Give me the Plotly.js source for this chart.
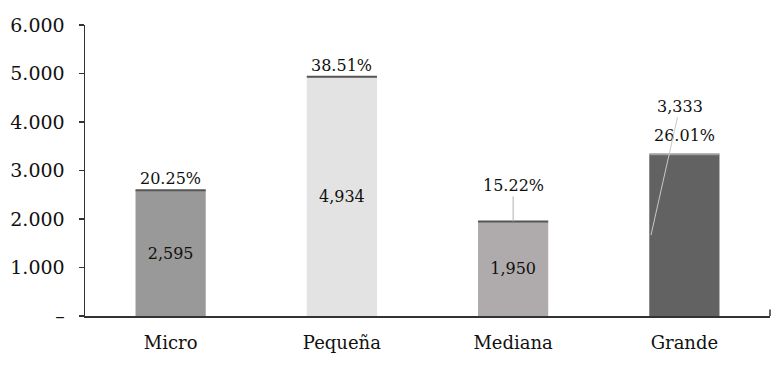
<!DOCTYPE html>
<html>
<head>
<meta charset="utf-8">
<script src="https://cdn.plot.ly/plotly-3.0.1.min.js"></script>
<style>html,body{margin:0;padding:0;background:#fff;}#chart{width:781px;height:366px;}</style>
</head>
<body>
<div id="chart"></div>
<script>
const categories = ["Micro", "Pequeña", "Mediana", "Grande"];
const values = [2595, 4934, 1950, 3333];
const valueLabels = ["2,595", "4,934", "1,950", "3,333"];
const percentLabels = ["20.25%", "38.51%", "15.22%", "26.01%"];
const yTickVals = [0, 1000, 2000, 3000, 4000, 5000, 6000];
const yTickText = ["–", "1.000", "2.000", "3.000", "4.000", "5.000", "6.000"];

const barColors = ["#9a9999", "#e3e3e3", "#afabac", "#636263"];
const topLineColors = ["#555555", "#555555", "#555555", "#a0a0a0"];
const FONT = "DejaVu Serif";
const BARW = 0.41;

const trace = {
  type: "bar",
  x: categories,
  y: values,
  width: BARW,
  marker: {color: barColors},
  text: valueLabels.map((t, i) => i === 3 ? "" : t),
  textposition: "inside",
  insidetextanchor: "middle",
  textfont: {family: FONT, size: 16, color: "#111"},
  hoverinfo: "none"
};

const shapes = values.map((v, i) => ({
  type: "line", xref: "x", yref: "y",
  x0: i - BARW / 2, x1: i + BARW / 2, y0: v, y1: v,
  line: {color: topLineColors[i], width: 2}
}));
shapes.push({type: "line", xref: "paper", yref: "paper", x0: 1, x1: 1, y0: 0, y1: 0.022,
  line: {color: "#333", width: 1.5}});

const annotations = [];
annotations.push({x: categories[0], y: values[0], text: percentLabels[0], yanchor: "bottom", yshift: 0, showarrow: false});
annotations.push({x: categories[1], y: values[1], text: percentLabels[1], yanchor: "bottom", yshift: 0, showarrow: false});
annotations.push({x: categories[2], y: values[2], text: percentLabels[2], showarrow: true, arrowhead: 0,
  arrowwidth: 1, arrowcolor: "#b0b0b0", ax: 0, ay: -36, axref: "pixel", ayref: "pixel", standoff: 0});
annotations.push({x: categories[3], y: values[3], text: percentLabels[3], yanchor: "bottom", yshift: 7, showarrow: false});
annotations.push({x: 2.805, y: values[3] / 2, text: valueLabels[3], showarrow: true, arrowhead: 0,
  arrowwidth: 1, arrowcolor: "#c8c8c8", ax: 29, ay: -129, axref: "pixel", ayref: "pixel"});
annotations.forEach(a => { a.font = {family: FONT, size: 16, color: "#111"}; });

const layout = {
  width: 781, height: 366,
  margin: {l: 85, r: 11, t: 25, b: 50},
  paper_bgcolor: "#fff", plot_bgcolor: "#fff",
  showlegend: false,
  font: {family: FONT, color: "#111"},
  xaxis: {
    type: "category", range: [-0.5, 3.5],
    showline: true, linecolor: "#333", linewidth: 1.5,
    ticks: "", showgrid: false, zeroline: false,
    tickfont: {family: FONT, size: 18, color: "#111"},
    ticklabelstandoff: 10
  },
  yaxis: {
    range: [0, 6000], tickvals: yTickVals, ticktext: yTickText,
    showline: true, linecolor: "#333", linewidth: 1.5,
    ticks: "outside", ticklen: 5, tickcolor: "#333", tickwidth: 1.2,
    showgrid: false, zeroline: false,
    tickfont: {family: FONT, size: 19, color: "#111"},
    ticklabelstandoff: 10
  },
  bargap: 0.59,
  shapes: shapes,
  annotations: annotations
};

Plotly.newPlot("chart", [trace], layout, {staticPlot: true, displayModeBar: false});
</script>
</body>
</html>
